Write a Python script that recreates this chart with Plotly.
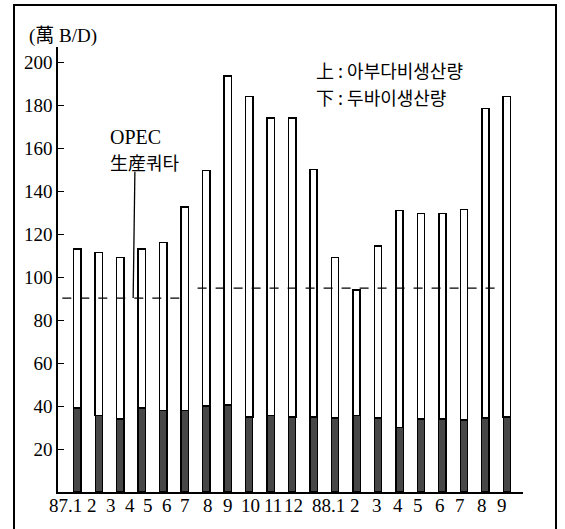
import plotly.graph_objects as go

# ---- data (萬B/D) ----
months = ["87.1", "2", "3", "4", "5", "6", "7", "8", "9", "10", "11", "12",
          "88.1", "2", "3", "4", "5", "6", "7", "8", "9"]
dubai = [39, 35.5, 34, 39, 38, 38, 40, 40.5, 35, 35.5, 35, 35,
         34.5, 35.5, 34.5, 30, 34, 34, 33.5, 34.5, 35]
abu_dhabi = [74, 76, 75, 74, 78, 94.5, 109.5, 153, 149, 138.5, 139, 115,
             74.5, 58.5, 80, 101, 95.5, 95.5, 98, 144, 149]
quota = [90.2, 90.2, 90.2, 90.2, 90.2, 90.2, 94.8, 94.8, 94.8, 94.8, 94.8, 94.8,
         94.8, 94.8, 94.8, 94.8, 94.8, 94.8, 94.8, 94.8, 94.8]
y_ticks = [20, 40, 60, 80, 100, 120, 140, 160, 180, 200]

# ---- layout ----
W, H = 565, 529
L, R, T, B = 58, 523, 47, 492      # plot area in pixels
XR = [-0.9, 20.75]
YR = [0, 207]

def px(xp):          # page pixel -> paper x (paper = whole figure, zero margins)
    return xp / W

def py(yp):
    return 1 - yp / H

# horizontal nudges (px) of the hand-set month labels relative to their bars
label_shift = [7, -7, -9, -12, -15, -18, -21, -20, -21, -20, -19, -20,
               12, -2, -1, -2, -3, -2, -4, -3, -5]

idx = list(range(len(months)))
SERIF = "Liberation Serif"
KR = "Noto Sans CJK KR"

fig = go.Figure()
fig.add_trace(go.Bar(x=idx, y=dubai, width=0.34, name="두바이",
                     marker=dict(color="#474747", line=dict(color="black", width=1.3))))
fig.add_trace(go.Bar(x=idx, y=abu_dhabi, width=0.34, name="아부다비",
                     marker=dict(color="white", line=dict(color="black", width=1.5))))

# quota line: split into periods of constant value
segs = []
start = 0
for i in range(1, len(quota) + 1):
    if i == len(quota) or quota[i] != quota[start]:
        segs.append((start, i - 1, quota[start]))
        start = i
for k, (a, b, v) in enumerate(segs):
    x0 = XR[0] + 0.2 if k == 0 else a - 0.4
    x1 = b - 0.1 if k == 0 else b - 0.2
    fig.add_trace(go.Scatter(x=[x0, x1], y=[v, v], mode="lines",
                             line=dict(color="black", width=1.2, dash="9px,9px"),
                             hoverinfo="skip"))

# invisible trace on a free-standing axis whose line forms the frame's left edge
fig.add_trace(go.Scatter(x=[0], y=[0], yaxis="y2", mode="markers",
                         marker=dict(opacity=0), hoverinfo="skip"))

# leader line for OPEC quota label
fig.add_shape(type="line", xref="x", yref="y", x0=2.68, x1=2.6, y0=149, y1=quota[0],
              line=dict(color="black", width=1.3))

# outer frame: left, top, right edges (bottom edge runs off the page)
fig.add_shape(type="path", xref="paper", yref="paper",
              path="M {:.5f},{:.5f} L {:.5f},{:.5f} L {:.5f},{:.5f} L {:.5f},{:.5f}".format(
                  px(14), py(535), px(14), py(5), px(556), py(5), px(556), py(535)),
              line=dict(color="black", width=2), fillcolor="rgba(0,0,0,0)", layer="above")

# x category labels
for i, lab in enumerate(months):
    fig.add_annotation(x=i, y=py(B), xref="x", yref="paper", text=lab,
                       xanchor="right" if "." in lab else "center",
                       yanchor="top", xshift=label_shift[i], yshift=-1,
                       showarrow=False,
                       font=dict(family=SERIF, size=19, color="black"))

anns = [
    dict(text="(萬 B/D)", x=px(27), y=py(36), font=dict(family=SERIF + ", " + KR, size=19)),
    dict(text="OPEC", x=px(108), y=py(137), font=dict(family=SERIF, size=20)),
    dict(text="生産쿼타", x=px(108), y=py(162), font=dict(family=KR, size=18)),
    dict(text="上 : 아부다비생산량", x=px(314), y=py(70), font=dict(family=KR, size=18)),
    dict(text="下 : 두바이생산량", x=px(314), y=py(97), font=dict(family=KR, size=18)),
]
for a in anns:
    a.update(xref="paper", yref="paper", xanchor="left", yanchor="middle",
             showarrow=False)
    a["font"]["color"] = "black"
    fig.add_annotation(**a)

fig.update_layout(
    width=W, height=H,
    margin=dict(l=0, r=0, t=0, b=0, pad=0),
    paper_bgcolor="white", plot_bgcolor="white",
    barmode="stack", showlegend=False,
    font=dict(family=SERIF, size=18, color="black"),
    yaxis2=dict(domain=[0, py(5)], anchor="free", position=px(14), overlaying="y",
                showline=True, linecolor="black", linewidth=2,
                showticklabels=False, ticks="", showgrid=False, zeroline=False,
                range=[0, 1], fixedrange=True),
)
fig.update_xaxes(range=XR, domain=[px(L), px(R)], showticklabels=False,
                 showgrid=False, zeroline=False, showline=True, linecolor="black",
                 linewidth=1.5, ticks="")
fig.update_yaxes(selector=dict(anchor="x"), range=YR, domain=[py(B), py(T)],
                 tickmode="array", tickvals=y_ticks,
                 ticktext=[str(v) for v in y_ticks],
                 showgrid=False, zeroline=False, showline=True, linecolor="black",
                 linewidth=1.5, ticks="inside", ticklen=6, tickcolor="black",
                 tickfont=dict(family=SERIF, size=19, color="black"))
fig.layout.yaxis.update(range=YR, domain=[py(B), py(T)], tickmode="array",
                        tickvals=y_ticks, ticktext=[str(v) for v in y_ticks],
                        showgrid=False, zeroline=False, showline=True, linecolor="black",
                        linewidth=1.5, ticks="inside", ticklen=6, tickcolor="black",
                        tickfont=dict(family=SERIF, size=19, color="black"))

# remove the default page margin so the figure sits at the window's corner
fig.write_html("out.html", config={"displayModeBar": False},
               post_script="document.body.style.margin='0';document.body.style.overflow='hidden';")
